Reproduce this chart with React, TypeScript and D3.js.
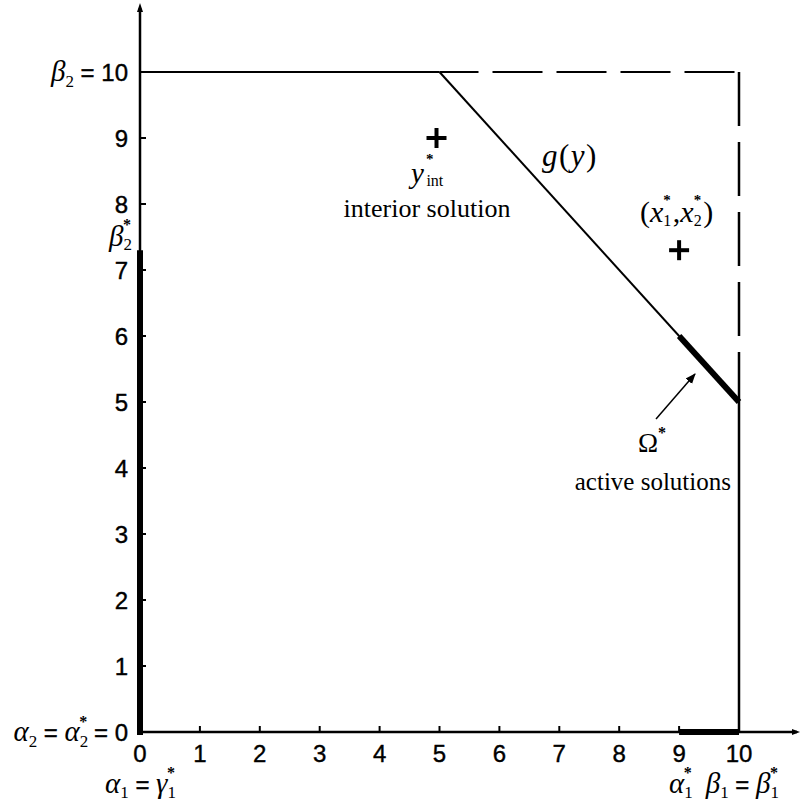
import * as d3 from "d3";

// axis ticks
const xTicks = [0, 1, 2, 3, 4, 5, 6, 7, 8, 9, 10];
const yTicks = [0, 1, 2, 3, 4, 5, 6, 7, 8, 9, 10];

// feasible box corners and the constraint g(y)
const boxLo = [0, 0];
const boxHi = [10, 10];
const gLine = [
  [5, 10],
  [10, 5],
];
// active solution set Omega*
const activeSeg = [
  [9, 6],
  [10, 5],
];
const interiorPt = [4.95, 9];
const optimumPt = [9, 7.3];
const beta2Star = 7.3;
const alpha1Star = 9;

const W = 800;
const H = 811;

const sans = "'Liberation Sans', Arial, sans-serif";
const serif = "'Liberation Serif', 'Times New Roman', serif";

const x = d3.scaleLinear().domain([0, 10]).range([140, 739]);
const y = d3.scaleLinear().domain([0, 10]).range([732, 72]);

const line = d3.line<number[]>().x((d) => x(d[0])).y((d) => y(d[1]));

const Plus = ({ cx, cy }: { cx: number; cy: number }) => (
  <g stroke="#000" strokeWidth={4}>
    <line x1={cx - 10} x2={cx + 10} y1={cy} y2={cy} />
    <line x1={cx} x2={cx} y1={cy - 10} y2={cy + 10} />
  </g>
);

export default function App() {
  const x0 = x(boxLo[0]);
  const y0 = y(boxLo[1]);
  const gx = x(gLine[0][0]);
  const top = y(boxHi[1]);
  const right = x(boxHi[0]);

  return (
    <svg
      width={W}
      height={H}
      style={{ position: "absolute", left: 0, top: 0, background: "#fff" }}
    >
      <defs>
        <marker id="arr" viewBox="0 0 10 10" refX={9} refY={5} markerWidth={7} markerHeight={7} orient="auto">
          <path d="M0,1 L10,5 L0,9 z" fill="#000" />
        </marker>
      </defs>

      {/* axes */}
      <line x1={x0} x2={x0} y1={y0} y2={8} stroke="#000" strokeWidth={2.5} />
      <path d={`M${x0 - 3},12 L${x0},3 L${x0 + 3},12 z`} fill="#000" />
      <line x1={x0} x2={797} y1={y0} y2={y0} stroke="#000" strokeWidth={2.5} />
      <path d={`M792,${y0 - 3} L800,${y0} L792,${y0 + 3} z`} fill="#000" />

      {/* ticks */}
      {yTicks.slice(1, 10).map((t) => (
        <line key={"yt" + t} x1={x0} x2={x0 + 6} y1={y(t)} y2={y(t)} stroke="#000" strokeWidth={2} />
      ))}
      {xTicks.slice(1, 10).map((t) => (
        <line key={"xt" + t} x1={x(t)} x2={x(t)} y1={y0} y2={y0 - 6} stroke="#000" strokeWidth={2} />
      ))}

      {/* tick labels */}
      <g fontFamily={sans} fontSize={24} fill="#000" stroke="#000" strokeWidth={0.4}>
        {yTicks.slice(1, 10).map((t) => (
          <text key={"yl" + t} x={128} y={y(t)} dy="0.36em" textAnchor="end">
            {t}
          </text>
        ))}
        {xTicks.map((t) => (
          <text key={"xl" + t} x={x(t)} y={762} textAnchor="middle">
            {t}
          </text>
        ))}
      </g>

      {/* box: solid top-left part, dashed top-right and right sides */}
      <line x1={x0} x2={gx} y1={top} y2={top} stroke="#000" strokeWidth={2} />
      <line x1={gx} x2={right} y1={top} y2={top} stroke="#000" strokeWidth={2} strokeDasharray="50 14" strokeDashoffset={11} />
      <line x1={right} x2={right} y1={top} y2={y(gLine[1][1])} stroke="#000" strokeWidth={2.5} strokeDasharray="54 16" />
      <line x1={right} x2={right} y1={y(gLine[1][1])} y2={y0} stroke="#000" strokeWidth={2.5} />

      {/* g(y) */}
      <path d={line(gLine) ?? ""} stroke="#000" strokeWidth={2} fill="none" />
      <path d={line(activeSeg) ?? ""} stroke="#000" strokeWidth={6} fill="none" />

      {/* thick bars on axes */}
      <line x1={x0} x2={x0} y1={y0 + 3} y2={y(beta2Star)} stroke="#000" strokeWidth={6} />
      <line x1={x(alpha1Star)} x2={x(boxHi[0])} y1={y0} y2={y0} stroke="#000" strokeWidth={6} />

      {/* markers */}
      <Plus cx={x(interiorPt[0])} cy={y(interiorPt[1])} />
      <Plus cx={x(optimumPt[0])} cy={y(optimumPt[1])} />

      {/* arrow to Omega* */}
      <line x1={656} y1={419} x2={695} y2={374} stroke="#000" strokeWidth={1.5} markerEnd="url(#arr)" />

      {/* math labels */}
      <g fontFamily={serif} fill="#000">
        {/* beta2 = 10 */}
        <text x={128} y={top + 9} textAnchor="end" fontSize={29}>
          <tspan fontStyle="italic">β</tspan>
          <tspan fontSize={17} dy={6}>2</tspan>
          <tspan dy={-6} fontFamily={sans} fontSize={24} stroke="#000" strokeWidth={0.4}> = 10</tspan>
        </text>
        {/* beta2* */}
        <text x={109} y={y(beta2Star) - 4} fontSize={29}>
          <tspan fontStyle="italic">β</tspan>
          <tspan fontSize={17} dy={4}>2</tspan>
          <tspan fontSize={16} fontWeight="bold" dx={-9} dy={-20}>*</tspan>
        </text>
        {/* alpha2 = alpha2* = 0 */}
        <text x={128} y={y0 + 9} textAnchor="end" fontSize={29}>
          <tspan fontStyle="italic">α</tspan>
          <tspan fontSize={17} dy={6}>2</tspan>
          <tspan dy={-6} fontFamily={sans} fontSize={24} stroke="#000" strokeWidth={0.4}> = </tspan>
          <tspan fontStyle="italic">α</tspan>
          <tspan fontSize={17} dy={6}>2</tspan>
          <tspan fontSize={16} fontWeight="bold" dx={-9} dy={-20}>*</tspan>
          <tspan dy={14} fontFamily={sans} fontSize={24} stroke="#000" strokeWidth={0.4}> = 0</tspan>
        </text>
        {/* alpha1 = gamma1* */}
        <text x={105} y={793} fontSize={29}>
          <tspan fontStyle="italic">α</tspan>
          <tspan fontSize={17} dy={5}>1</tspan>
          <tspan dy={-5} fontFamily={sans} fontSize={24} stroke="#000" strokeWidth={0.4}> = </tspan>
          <tspan fontStyle="italic">γ</tspan>
          <tspan fontSize={17} dy={5}>1</tspan>
          <tspan fontSize={16} fontWeight="bold" dx={-9} dy={-20}>*</tspan>
        </text>
        {/* alpha1*  beta1 = beta1* */}
        <text x={669} y={793} fontSize={29}>
          <tspan fontStyle="italic">α</tspan>
          <tspan fontSize={17} dy={5}>1</tspan>
          <tspan fontSize={16} fontWeight="bold" dx={-9} dy={-20}>*</tspan>
          <tspan dy={15} dx={14} fontStyle="italic">β</tspan>
          <tspan fontSize={17} dy={5}>1</tspan>
          <tspan dy={-5} fontFamily={sans} fontSize={24} stroke="#000" strokeWidth={0.4}> = </tspan>
          <tspan fontStyle="italic">β</tspan>
          <tspan fontSize={17} dy={5}>1</tspan>
          <tspan fontSize={16} fontWeight="bold" dx={-9} dy={-20}>*</tspan>
        </text>

        {/* y*_int */}
        <text x={411} y={183} fontSize={29}>
          <tspan fontStyle="italic">y</tspan>
          <tspan fontSize={15} fontWeight="bold" dx={2} dy={-19}>*</tspan>
          <tspan fontSize={16} dx={-7} dy={22}>int</tspan>
        </text>
        <text x={427} y={217} fontSize={26} textAnchor="middle">interior solution</text>

        {/* g(y) */}
        <text x={542} y={166} fontSize={31} letterSpacing={1.5}>
          <tspan fontStyle="italic">g</tspan>
          <tspan>(</tspan>
          <tspan fontStyle="italic">y</tspan>
          <tspan>)</tspan>
        </text>

        {/* (x1*, x2*) */}
        <text x={640} y={222} fontSize={30}>
          <tspan>(</tspan>
          <tspan fontStyle="italic">x</tspan>
          <tspan fontSize={16} dy={4}>1</tspan>
          <tspan fontSize={15} fontWeight="bold" dx={-8} dy={-21}>*</tspan>
          <tspan dy={17} dx={2}>,</tspan>
          <tspan fontStyle="italic">x</tspan>
          <tspan fontSize={16} dy={4}>2</tspan>
          <tspan fontSize={15} fontWeight="bold" dx={-8} dy={-21}>*</tspan>
          <tspan dy={17} dx={2}>)</tspan>
        </text>

        {/* Omega* */}
        <text x={638} y={452} fontSize={27}>
          <tspan>Ω</tspan>
          <tspan fontSize={16} fontWeight="bold" dy={-14}>*</tspan>
        </text>
        <text x={731} y={490} fontSize={25} textAnchor="end">active solutions</text>
      </g>
    </svg>
  );
}
